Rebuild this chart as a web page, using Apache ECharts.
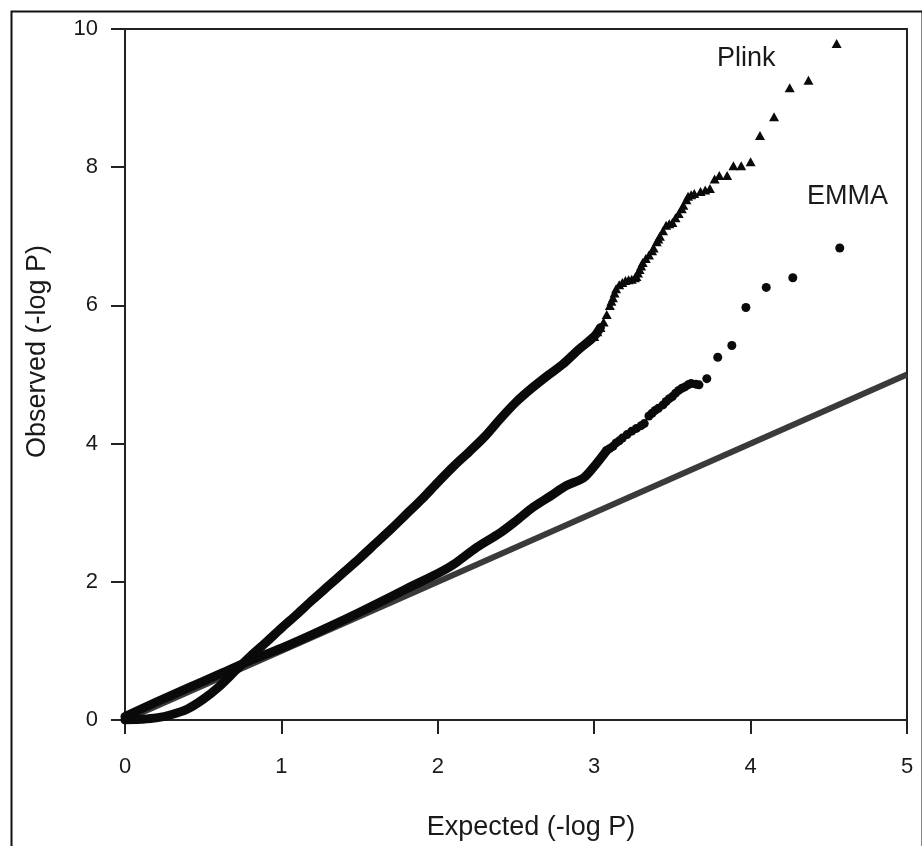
<!DOCTYPE html>
<html>
<head>
<meta charset="utf-8">
<script src="https://cdn.jsdelivr.net/npm/echarts@6/dist/echarts.min.js"></script>
<style>
html,body{margin:0;padding:0;background:#fff;}
#chart{width:922px;height:846px;}
</style>
</head>
<body>
<div id="chart"></div>
<script>
// Reference line (expected = observed)
const refLine = [[0, 0], [5, 5]];

// Plink: dense part (continuous band)
const plinkDense = [
  [0,0.0],[0.1,0.01],[0.2,0.03],[0.3,0.08],[0.4,0.16],[0.5,0.3],[0.6,0.48],[0.7,0.7],
  [0.8,0.92],[0.9,1.12],[1.0,1.33],[1.1,1.53],[1.2,1.74],[1.3,1.94],[1.4,2.14],[1.5,2.34],
  [1.6,2.55],[1.7,2.76],[1.8,2.98],[1.9,3.2],[2.0,3.44],[2.1,3.67],[2.2,3.88],[2.3,4.1],
  [2.4,4.36],[2.5,4.6],[2.6,4.8],[2.7,4.98],[2.8,5.15],[2.9,5.36],[3.0,5.55],[3.04,5.68]
];
// Plink: individual triangles in the tail
const plinkTail = [
  [3.0,5.55],[3.02,5.62],[3.04,5.68],[3.06,5.76],[3.08,5.87],[3.1,6.0],[3.11,6.06],[3.12,6.11],
  [3.13,6.18],[3.14,6.24],[3.16,6.3],[3.18,6.33],[3.2,6.36],[3.22,6.37],[3.24,6.38],[3.26,6.4],
  [3.27,6.42],[3.28,6.47],[3.29,6.52],[3.3,6.57],[3.31,6.62],[3.33,6.68],[3.35,6.73],[3.37,6.79],
  [3.38,6.83],[3.4,6.92],[3.41,6.96],[3.42,7.0],[3.44,7.08],[3.46,7.16],[3.48,7.18],[3.5,7.2],
  [3.52,7.27],[3.54,7.33],[3.56,7.4],[3.57,7.45],[3.59,7.53],[3.6,7.58],[3.62,7.6],[3.64,7.62],
  [3.68,7.65],[3.71,7.67],[3.74,7.69],[3.77,7.83],[3.8,7.88],[3.85,7.88],[3.89,8.02],[3.94,8.02],
  [4.0,8.08],[4.06,8.46],[4.15,8.73],[4.25,9.15],[4.37,9.26],[4.55,9.79]
];

// EMMA: dense part
const emmaDense = [
  [0,0.05],[0.2,0.26],[0.4,0.46],[0.6,0.66],[0.8,0.86],[1.0,1.04],[1.2,1.24],[1.4,1.45],
  [1.6,1.67],[1.8,1.9],[2.0,2.12],[2.1,2.25],[2.25,2.5],[2.4,2.71],[2.5,2.88],[2.61,3.08],
  [2.72,3.24],[2.82,3.39],[2.93,3.5],[3.0,3.67],[3.08,3.9]
];
// EMMA: individual dots in the tail
const emmaTail = [
  [3.08,3.9],[3.1,3.93],[3.12,3.96],[3.14,4.01],[3.16,4.04],[3.18,4.08],[3.21,4.13],[3.24,4.18],
  [3.27,4.22],[3.3,4.26],[3.32,4.29],[3.35,4.4],[3.37,4.44],[3.39,4.48],[3.41,4.51],[3.44,4.56],
  [3.46,4.61],[3.48,4.65],[3.5,4.68],[3.52,4.73],[3.54,4.77],[3.56,4.8],[3.58,4.82],[3.6,4.85],
  [3.62,4.87],[3.65,4.86],[3.67,4.85],[3.72,4.94],[3.79,5.25],[3.88,5.42],[3.97,5.97],[4.1,6.26],
  [4.27,6.4],[4.57,6.83]
];

const xTicks = [0, 1, 2, 3, 4, 5];
const yTicks = [0, 2, 4, 6, 8, 10];

const FONT = '"Liberation Sans", Arial, sans-serif';
const chart = echarts.init(document.getElementById('chart'));
chart.setOption({
  animation: false,
  backgroundColor: '#fff',
  grid: {left: 125, right: 15, top: 29, bottom: 120, show: true, borderColor: '#222', borderWidth: 2, backgroundColor: 'transparent'},
  xAxis: {
    type: 'value', min: xTicks[0], max: xTicks[xTicks.length-1], interval: 1,
    name: 'Expected (-log P)', nameLocation: 'middle', nameGap: 94,
    nameTextStyle: {fontFamily: FONT, fontSize: 27, color: '#1a1a1a', padding: [0, 0, 0, 30]},
    axisLine: {show: true, onZero: false, lineStyle: {color: '#222', width: 2}},
    axisTick: {show: true, length: 14, lineStyle: {color: '#222', width: 2}},
    axisLabel: {fontFamily: FONT, fontSize: 22, color: '#1a1a1a', margin: 36},
    splitLine: {show: false}
  },
  yAxis: {
    type: 'value', min: yTicks[0], max: yTicks[yTicks.length-1], interval: 2,
    name: 'Observed (-log P)', nameLocation: 'middle', nameGap: 74,
    nameTextStyle: {fontFamily: FONT, fontSize: 27, color: '#1a1a1a', padding: [0, 0, 0, 46]},
    axisLine: {show: true, onZero: false, lineStyle: {color: '#222', width: 2}},
    axisTick: {show: true, length: 14, lineStyle: {color: '#222', width: 2}},
    axisLabel: {fontFamily: FONT, fontSize: 22, color: '#1a1a1a', margin: 27},
    splitLine: {show: false}
  },
  series: [
    {type: 'line', data: refLine, showSymbol: false, symbol: 'none', lineStyle: {color: '#3a3a3a', width: 6}, z: 2, silent: true},
    {type: 'line', data: emmaDense, showSymbol: false, symbol: 'none', smooth: 0.3, lineStyle: {color: '#0a0a0a', width: 9, cap: 'round', join: 'round'}, z: 3},
    {type: 'scatter', data: emmaTail, symbol: 'circle', symbolSize: 9, itemStyle: {color: '#0a0a0a', opacity: 1}, z: 3},
    {type: 'line', data: plinkDense, showSymbol: false, symbol: 'none', smooth: 0.3, lineStyle: {color: '#0a0a0a', width: 9, cap: 'round', join: 'round'}, z: 4},
    {type: 'scatter', data: plinkTail, symbol: 'triangle', symbolSize: [10, 9], itemStyle: {color: '#0a0a0a', opacity: 1}, z: 4}
  ],
  graphic: [
    {type: 'rect', left: 9, top: 9, shape: {width: 911, height: 860}, style: {fill: 'none', stroke: '#111', lineWidth: 2}, silent: true},
    {type: 'text', left: 717, top: 45, style: {text: 'Plink', font: '27px "Liberation Sans", Arial, sans-serif', fill: '#1a1a1a'}},
    {type: 'text', left: 807, top: 183, style: {text: 'EMMA', font: '27px "Liberation Sans", Arial, sans-serif', fill: '#1a1a1a'}}
  ]
});
</script>
</body>
</html>
